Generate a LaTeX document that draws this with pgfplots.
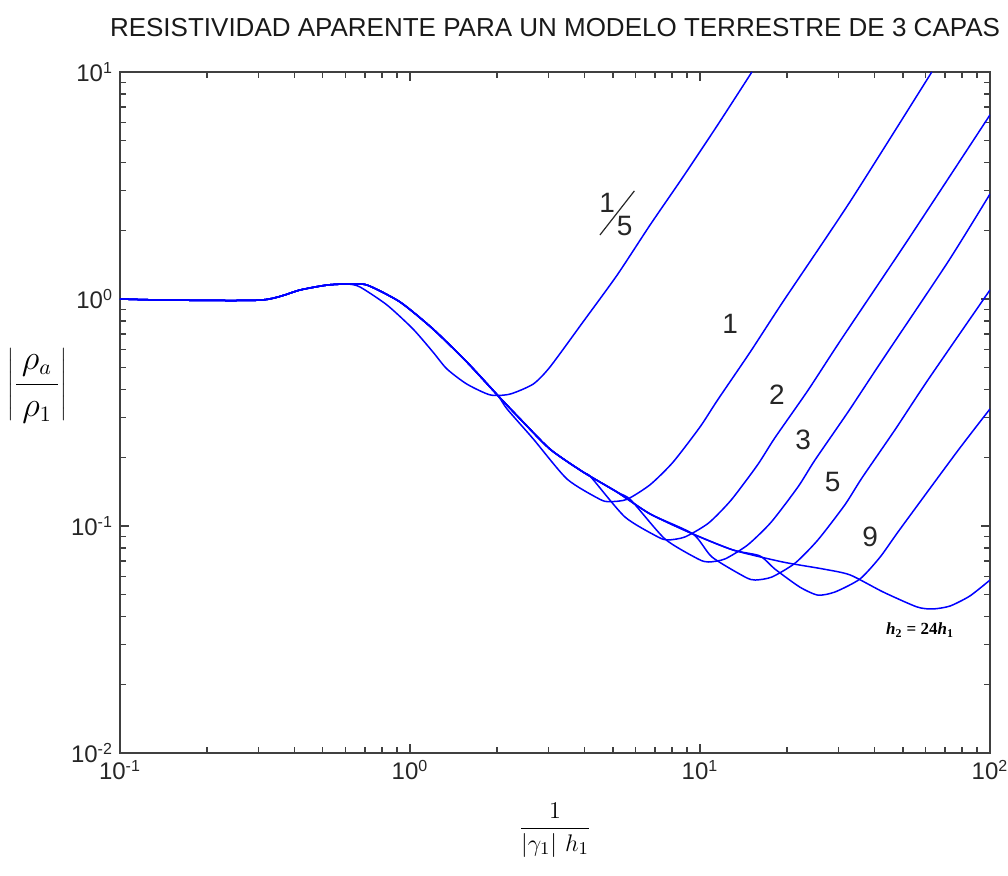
\documentclass[border=0pt]{standalone}
\usepackage{fontspec}
\setmainfont{Liberation Sans}
\newfontfamily\labserif{Liberation Serif}
\usepackage{pgfplots}
\pgfplotsset{compat=1.18}

\definecolor{curveblue}{RGB}{0,0,255}
\pgfplotsset{rcurve/.style={curveblue, line width=0.75pt, smooth, tension=0.4, mark=none, solid}}

\begin{document}
\begin{tikzpicture}
\path[use as bounding box] (-60pt,-61.5pt) rectangle (444pt,376.5pt);
\begin{axis}[
    name=ax, at={(0pt,0pt)}, anchor=south west,
    scale only axis, width=435pt, height=340.5pt,
    xmode=log, ymode=log,
    xmin=0.1, xmax=100, ymin=0.01, ymax=10,
    xtick={0.1,1,10,100}, ytick={0.01,0.1,1,10},
    xticklabels={10\textsuperscript{-1},10\textsuperscript{0},10\textsuperscript{1},10\textsuperscript{2}},
    yticklabels={10\textsuperscript{-2},10\textsuperscript{-1},10\textsuperscript{0},10\textsuperscript{1}},
    minor xtick={0.2,0.3,0.4,0.5,0.6,0.7,0.8,0.9,2,3,4,5,6,7,8,9,20,30,40,50,60,70,80,90},
    minor ytick={0.02,0.03,0.04,0.05,0.06,0.07,0.08,0.09,0.2,0.3,0.4,0.5,0.6,0.7,0.8,0.9,2,3,4,5,6,7,8,9},
    xtick pos=both, ytick pos=both,
    tick align=inside,
    major tick length=4.5pt, minor tick length=2.8pt,
    axis line style={black!75, line width=0.9pt},
    tick style={black!75, line width=0.8pt},
    every tick label/.append style={font=\fontsize{12}{12}\selectfont, text=black!85},
]
% h2 = h1/5
\addplot[rcurve] coordinates {
    (0.1,1.0) (0.141,0.99) (0.309,0.99) (0.418,1.096) (0.518,1.152) (0.607,1.164)
    (0.672,1.13) (0.833,0.941) (1.024,0.738) (1.20,0.584) (1.34,0.492) (1.57,0.422)
    (1.89,0.378) (2.21,0.381) (2.66,0.422) (3.04,0.502) (3.95,0.792) (5.18,1.275)
    (6.73,2.12) (8.74,3.45) (11.5,5.84) (15.1,10)
};
% h2 = h1
\addplot[rcurve] coordinates {
    (0.1,1.0) (0.141,0.99) (0.309,0.99) (0.418,1.096) (0.518,1.152) (0.607,1.164)
    (0.711,1.152) (0.924,0.970) (1.20,0.738) (1.57,0.528) (2.00,0.378)
    (2.16,0.328) (2.66,0.242) (3.48,0.161) (4.52,0.131) (4.89,0.128) (5.60,0.131)
    (6.73,0.152) (8.07,0.191) (10.0,0.273) (11.5,0.359) (14.9,0.584) (19.3,0.970)
    (32.9,2.68) (63,10)
};
% h2 = 2 h1
\addplot[rcurve] coordinates {
    (0.1,1.0) (0.141,0.99) (0.309,0.99) (0.418,1.096) (0.518,1.152) (0.607,1.164)
    (0.711,1.152) (0.924,0.970) (1.20,0.738) (1.57,0.528) (2.00,0.378) (2.40,0.296)
    (3.04,0.218) (3.95,0.173)
    (4.21,0.164) (5.51,0.1096) (7.16,0.0895) (7.76,0.0868) (8.88,0.0895) (10.7,0.103)
    (12.8,0.130) (15.8,0.186) (18.1,0.244) (23.6,0.397) (30.6,0.660) (52.1,1.82) (100,6.47)
};
% h2 = 3 h1
\addplot[rcurve] coordinates {
    (0.1,1.0) (0.141,0.99) (0.309,0.99) (0.418,1.096) (0.518,1.152) (0.607,1.164)
    (0.711,1.152) (0.924,0.970) (1.20,0.738) (1.57,0.528) (2.00,0.378) (2.40,0.296)
    (3.04,0.218) (3.95,0.173) (5.18,0.141)
    (5.78,0.130) (7.57,0.0877) (9.84,0.0716) (10.7,0.0694) (12.2,0.0716) (14.6,0.0825)
    (17.6,0.104) (21.8,0.149) (24.9,0.195) (32.4,0.318) (42.1,0.528) (71.6,1.456) (100,2.90)
};
% h2 = 5 h1
\addplot[rcurve] coordinates {
    (0.1,1.0) (0.141,0.99) (0.309,0.99) (0.418,1.096) (0.518,1.152) (0.607,1.164)
    (0.711,1.152) (0.924,0.970) (1.20,0.738) (1.57,0.528) (2.00,0.378) (2.40,0.296)
    (3.04,0.218) (3.95,0.173) (5.18,0.141) (6.73,0.113) (9.46,0.0922)
    (11.0,0.0730) (14.3,0.0596) (15.5,0.0578) (17.7,0.0596) (21.3,0.0687) (25.5,0.0868)
    (31.6,0.124) (36.2,0.163) (47.0,0.265) (61.1,0.440) (100,1.096)
};
% h2 = 9 h1
\addplot[rcurve] coordinates {
    (0.1,1.0) (0.141,0.99) (0.309,0.99) (0.418,1.096) (0.518,1.152) (0.607,1.164)
    (0.711,1.152) (0.924,0.970) (1.20,0.738) (1.57,0.528) (2.00,0.378) (2.40,0.296)
    (3.04,0.218) (3.95,0.173) (5.18,0.141) (6.73,0.113) (9.46,0.0922) (13.0,0.0784)
    (16.1,0.0738) (18.1,0.0647) (22.1,0.0538) (25.5,0.0496) (29.2,0.0512) (35.6,0.0584)
    (41.8,0.0730) (49.0,0.0970) (76.9,0.212) (100,0.328)
};
% h2 = 24 h1
\addplot[rcurve] coordinates {
    (0.1,1.0) (0.141,0.99) (0.309,0.99) (0.418,1.096) (0.518,1.152) (0.607,1.164)
    (0.711,1.152) (0.924,0.970) (1.20,0.738) (1.57,0.528) (2.00,0.378) (2.40,0.296)
    (3.04,0.218) (3.95,0.173) (5.18,0.141) (6.73,0.113) (9.46,0.0922) (13.0,0.0784)
    (19.3,0.0694) (26.5,0.0647) (32.9,0.0609) (42.8,0.0512) (56.0,0.0440) (63.5,0.0431)
    (72.8,0.0444) (85.3,0.0492) (100,0.0578)
};

% curve labels
\node[font=\fontsize{14}{14}\selectfont, text=black!85] at (axis cs:5.13,2.39)
    {\makebox[0pt][l]{\raisebox{11.5pt}{1}}\rotatebox{52}{\rule{28pt}{0.6pt}}\kern-9pt5};
\node[font=\fontsize{14}{14}\selectfont, text=black!85] at (axis cs:12.7,0.776) {1};
\node[font=\fontsize{14}{14}\selectfont, text=black!85] at (axis cs:18.4,0.378) {2};
\node[font=\fontsize{14}{14}\selectfont, text=black!85] at (axis cs:22.7,0.239) {3};
\node[font=\fontsize{14}{14}\selectfont, text=black!85] at (axis cs:28.7,0.156) {5};
\node[font=\fontsize{14}{14}\selectfont, text=black!85] at (axis cs:38.6,0.0895) {9};
\node[font=\labserif\bfseries\fontsize{8.5}{9}\selectfont] at (axis cs:57.4,0.0348)
    {\textit{h}\textsubscript{2} = 24\textit{h}\textsubscript{1}};
\end{axis}

% title and axis labels
\node[anchor=base, font=\fontsize{13}{13}\selectfont, text=black!90]
    at ([yshift=17.5pt]ax.north) {RESISTIVIDAD APARENTE PARA UN MODELO TERRESTRE DE 3 CAPAS};
\node[font=\fontsize{13}{13}\selectfont] at ([yshift=-38.5pt]ax.south)
    {$\displaystyle\frac{1}{\left|\gamma_1\right|\,h_1}$};
\node[font=\fontsize{16}{16}\selectfont] at ([xshift=-41.5pt,yshift=13.25pt]ax.west)
    {$\displaystyle\left|\frac{\,\rho_a\,}{\,\rho_1\,}\right|$};
\end{tikzpicture}
\end{document}
